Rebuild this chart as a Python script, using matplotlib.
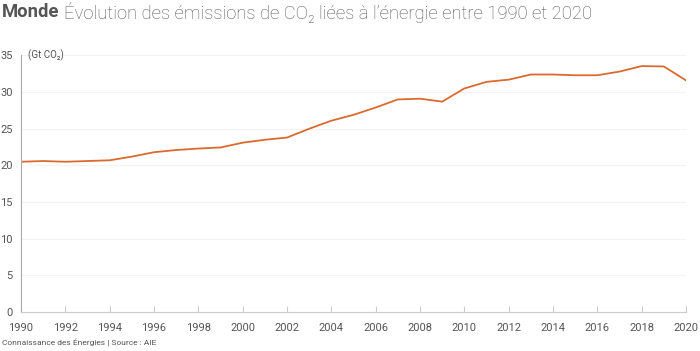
import matplotlib
matplotlib.use('Agg')
import matplotlib.pyplot as plt

years = list(range(1990, 2021))
emissions = [20.5, 20.6, 20.5, 20.6, 20.7, 21.2, 21.8, 22.1, 22.3, 22.45,
             23.1, 23.5, 23.8, 25.0, 26.1, 26.9, 27.9, 29.0, 29.1, 28.7,
             30.5, 31.4, 31.7, 32.4, 32.4, 32.3, 32.3, 32.8, 33.55, 33.5, 31.6]
xticks = list(range(1990, 2021, 2))
yticks = [0, 5, 10, 15, 20, 25, 30, 35]

plt.rcParams['font.family'] = ['Roboto', 'DejaVu Sans']

fig = plt.figure(figsize=(7, 3.51), dpi=100)
ax = fig.add_axes([0.03, 0.111, 0.95, 0.731])

ax.plot(years, emissions, color='#db6a2f', lw=1.3)

ax.set_xlim(1990, 2020)
ax.set_ylim(0, 35)
ax.set_xticks(xticks)
ax.set_yticks(yticks)
ax.grid(axis='y', color='#f3f3f3', lw=0.8)
ax.set_axisbelow(True)

for s in ['top', 'right']:
    ax.spines[s].set_visible(False)
ax.spines['left'].set_color('#aaaaaa')
ax.spines['bottom'].set_color('#cccccc')
ax.tick_params(axis='y', length=0, pad=6, labelsize=8, labelcolor='#555555')
ax.tick_params(axis='x', direction='in', length=4, color='#cccccc',
               pad=8, labelsize=8, labelcolor='#555555')

ax.text(1990.3, 35, '(Gt CO\u2082)', fontsize=7, color='#555555', va='center')

# titre
fig.canvas.draw()
r = fig.canvas.get_renderer()
t1 = fig.text(0.003, 0.965, 'Monde', fontsize=13.3, fontweight='bold',
              color='#555555', va='center')
bb = t1.get_window_extent(r)
fig.text((bb.x1 + 4) / 700, 0.965,
         '\u00c9volution des \u00e9missions de CO\u2082 li\u00e9es \u00e0 l\u2019\u00e9nergie entre 1990 et 2020',
         fontsize=13.3, fontweight='light', color='#575757', va='center')

fig.text(0.003, 0.022, 'Connaissance des \u00c9nergies | Source : AIE',
         fontsize=6, color='#555555', va='center')

fig.savefig('out.png', dpi=100)
